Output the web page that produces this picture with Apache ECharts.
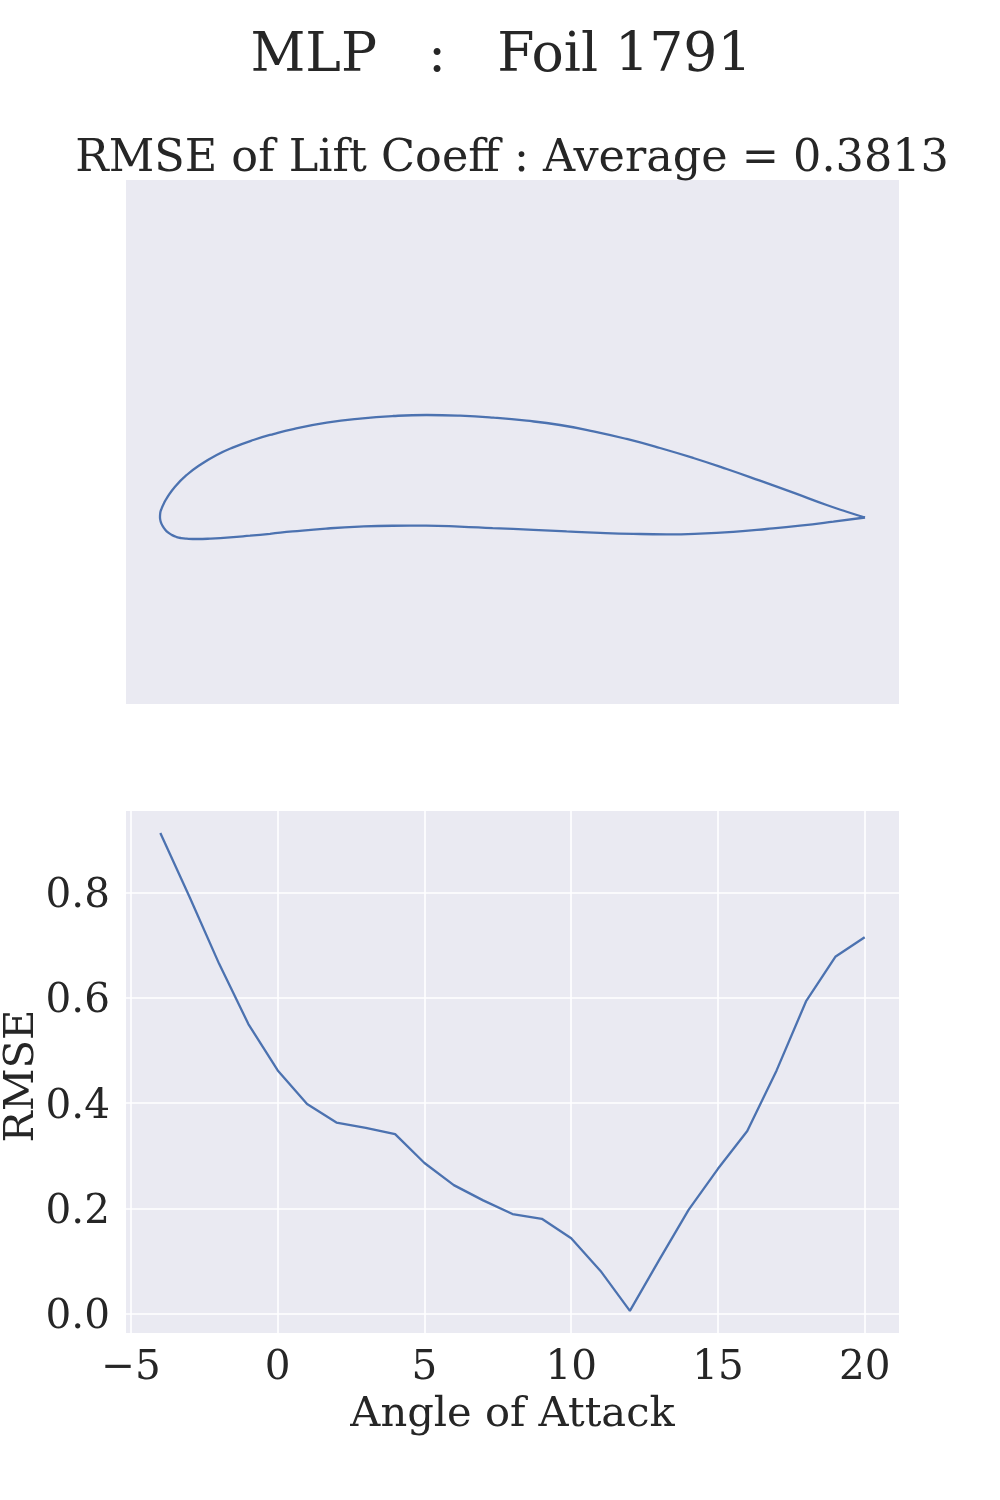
<!DOCTYPE html>
<html>
<head>
<meta charset="utf-8">
<title>MLP : Foil 1791</title>
<script src="https://cdn.jsdelivr.net/npm/echarts@6/dist/echarts.min.js"></script>
<style>
html, body { margin: 0; padding: 0; background: #fff; }
#main { width: 1000px; height: 1500px; }
</style>
</head>
<body>
<div id="main"></div>
<script>
// foil outline, chord units, trailing edge -> over the top -> leading edge -> back underneath
var foilX = [1, 0.974, 0.9456, 0.8983, 0.8511, 0.8038, 0.7565, 0.7092, 0.6619, 0.6147, 0.5674, 0.5201, 0.4728, 0.4255, 0.3783, 0.331, 0.2837, 0.2364, 0.1891, 0.1608, 0.1324, 0.104, 0.0804, 0.0567, 0.0378, 0.0213, 0.0095, 0.0055, 0.0024, 0.0004, 0, 0.0011, 0.0038, 0.0072, 0.0118, 0.0172, 0.0236, 0.03, 0.0378, 0.052, 0.0709, 0.0993, 0.1277, 0.156, 0.1882, 0.2355, 0.2827, 0.33, 0.3773, 0.4246, 0.4719, 0.5296, 0.5768, 0.6241, 0.6714, 0.7187, 0.766, 0.8132, 0.8605, 0.9078, 0.9551, 1];
var foilY = [0, 0.0082, 0.0177, 0.0352, 0.0522, 0.0688, 0.0844, 0.0986, 0.1114, 0.1223, 0.1312, 0.1373, 0.1416, 0.1444, 0.1454, 0.144, 0.1404, 0.1345, 0.1255, 0.1184, 0.1099, 0.0995, 0.0887, 0.0745, 0.0603, 0.0437, 0.0272, 0.02, 0.013, 0.0065, 0.0002, -0.0062, -0.0121, -0.017, -0.0215, -0.025, -0.0277, -0.0292, -0.03, -0.0305, -0.03, -0.0283, -0.0258, -0.0231, -0.0198, -0.0157, -0.0129, -0.0117, -0.0116, -0.0128, -0.015, -0.0175, -0.0198, -0.0218, -0.0232, -0.0238, -0.0228, -0.0203, -0.0163, -0.0116, -0.0059, 0];

var angles = [-4, -3, -2, -1, 0, 1, 2, 3, 4, 5, 6, 7, 8, 9, 10, 11, 12, 13, 14, 15, 16, 17, 18, 19, 20];
var rmse = [0.913, 0.791, 0.665, 0.55, 0.462, 0.398, 0.363, 0.353, 0.341, 0.286, 0.244, 0.215, 0.189, 0.18, 0.143, 0.081, 0.005, 0.102, 0.197, 0.275, 0.347, 0.462, 0.593, 0.678, 0.715];

var xTicks = [-5, 0, 5, 10, 15, 20];
var yTicks = [0, 0.2, 0.4, 0.6, 0.8];

var mainTitle = 'MLP   :   Foil 1791';
var subTitle = 'RMSE of Lift Coeff : Average = 0.3813';

var serif = '"DejaVu Serif", serif';
var textColor = '#262626';
var lineColor = '#4C72B0';
var panelColor = '#EAEAF2';

function pairs(xs, ys) {
    var out = [];
    for (var i = 0; i < xs.length; i++) {
        out.push([xs[i], ys[i]]);
    }
    return out;
}

var myChart = echarts.init(document.getElementById('main'));

var option = {
    animation: false,
    backgroundColor: '#fff',
    textStyle: { fontFamily: serif },
    title: [
        {
            text: mainTitle,
            left: 496,
            top: 25,
            textAlign: 'center',
            textStyle: { fontFamily: serif, fontSize: 53.6, fontWeight: 'normal', color: textColor }
        },
        {
            text: subTitle,
            left: 507,
            top: 132,
            textAlign: 'center',
            textStyle: { fontFamily: serif, fontSize: 44.5, fontWeight: 'normal', color: textColor }
        }
    ],
    // outerBoundsMode none, otherwise echarts shrinks the grid to fit the labels
    grid: [
        { left: 126, top: 180, width: 773, height: 524, show: true, backgroundColor: panelColor, borderWidth: 0, outerBoundsMode: 'none' },
        { left: 126, top: 811, width: 773, height: 522, show: true, backgroundColor: panelColor, borderWidth: 0, outerBoundsMode: 'none' }
    ],
    xAxis: [
        { gridIndex: 0, type: 'value', min: -0.0482, max: 1.0482, show: false },
        {
            gridIndex: 1,
            type: 'value',
            min: -5.17,
            max: 21.17,
            name: 'Angle of Attack',
            nameLocation: 'middle',
            nameGap: 61,
            nameTextStyle: { fontFamily: serif, fontSize: 41.6, color: textColor },
            nameMoveOverlap: false,
            axisLine: { show: false },
            axisTick: { show: false, customValues: xTicks },
            axisLabel: {
                customValues: xTicks,
                fontFamily: serif,
                fontSize: 40.5,
                color: textColor,
                margin: 15,
                formatter: function (v) { return v < 0 ? '\u2212' + Math.abs(v) : String(v); }
            },
            splitLine: { show: true, lineStyle: { color: '#fff', width: 1.6 } }
        }
    ],
    yAxis: [
        { gridIndex: 0, type: 'value', min: -0.2645, max: 0.4787, show: false },
        {
            gridIndex: 1,
            type: 'value',
            min: -0.037,
            max: 0.955,
            name: 'RMSE',
            nameLocation: 'middle',
            nameGap: 83,
            nameTextStyle: { fontFamily: serif, fontSize: 41.6, color: textColor, padding: [0, 8, 0, 0] },
            nameMoveOverlap: false,
            axisLine: { show: false },
            axisTick: { show: false, customValues: yTicks },
            axisLabel: {
                customValues: yTicks,
                fontFamily: serif,
                fontSize: 40.5,
                color: textColor,
                margin: 16,
                // small line box from the tick down, drops the label to where the reference has it
                verticalAlign: 'top',
                lineHeight: 8,
                formatter: function (v) { return v.toFixed(1); }
            },
            splitLine: { show: true, lineStyle: { color: '#fff', width: 1.6 } }
        }
    ],
    series: [
        {
            type: 'line',
            xAxisIndex: 0,
            yAxisIndex: 0,
            data: pairs(foilX, foilY),
            smooth: 0.5,
            showSymbol: false,
            lineStyle: { color: lineColor, width: 2.3 }
        },
        {
            type: 'line',
            xAxisIndex: 1,
            yAxisIndex: 1,
            data: pairs(angles, rmse),
            showSymbol: false,
            lineStyle: { color: lineColor, width: 2.3 }
        }
    ]
};

myChart.setOption(option);
</script>
</body>
</html>
